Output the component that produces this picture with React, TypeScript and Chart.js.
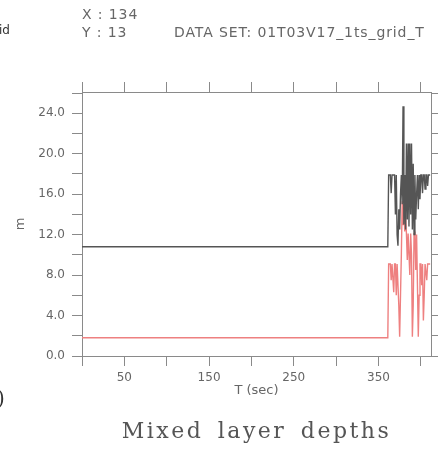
import React, { useEffect, useRef } from "react";
import { Chart, registerables } from "chart.js";

Chart.register(...registerables);

// ---- data ----
const flatTimes = [0, 361];
const blackFlat = 10.8;
const redFlat = 1.8;
const burstStart = 362;
const blackBurst = [
  17.9, 17.9, 17.9, 16.1, 17.9, 17.9, 17.9, 17.9, 14.0, 17.9,
  12.0, 10.9, 14.5, 12.5, 16.0, 17.9, 15.0, 24.7, 13.0, 17.9,
  12.5, 21.0, 13.5, 21.0, 12.8, 21.0, 14.0, 21.0, 12.5, 19.0,
  12.0, 17.9, 13.5, 16.0, 17.9, 14.5, 17.9, 15.5, 17.9, 17.9,
  16.1, 17.9, 17.9, 16.5, 17.9, 17.9, 16.8, 17.9, 17.9, 17.9,
];
const redBurst = [
  9.1, 9.1, 9.1, 7.5, 9.1, 9.1, 6.3, 9.1, 9.1, 6.0,
  9.1, 9.1, 5.0, 1.9, 6.0, 10.0, 15.3, 13.0, 15.0, 12.3,
  14.0, 12.1, 9.5, 12.1, 12.1, 8.0, 12.1, 10.0, 1.9, 5.0,
  12.1, 12.3, 8.5, 12.0, 7.0, 1.9, 6.0, 9.1, 9.1, 7.0,
  9.1, 3.5, 6.0, 9.1, 9.1, 7.5, 9.1, 9.1, 9.1, 9.1,
];
const xMin = 0;
const xMax = 412;
const yMin = 0;
const yMax = 26.1;
const xStep = 50;
const yStep = 2;
const headerX = "X : 134";
const headerY = "Y : 13";
const dataSetLabel = "DATA SET: 01T03V17_1ts_grid_T";
const chartTitle = "Mixed layer depths";
const xTitle = "T (sec)";
const yTitle = "m";

function series(flat: number, burst: number[]) {
  const pts = flatTimes.map((t) => ({ x: t, y: flat }));
  burst.forEach((v, i) => pts.push({ x: burstStart + i, y: v }));
  return pts;
}

const AXIS = "#8a8a8a";
const TEXT = "#666666";

const textPlugin = {
  id: "ferretText",
  afterDraw(chart: any) {
    const ctx = chart.ctx as CanvasRenderingContext2D;
    const area = chart.chartArea;
    ctx.save();
    ctx.fillStyle = TEXT;
    ctx.textBaseline = "middle";
    ctx.textAlign = "left";
    (ctx as any).letterSpacing = "0.9px";
    ctx.font = "14px 'DejaVu Sans'";
    ctx.fillText(headerX, area.left, 15);
    ctx.fillText(headerY, area.left, 33);
    ctx.fillText(dataSetLabel, 174, 33);
    (ctx as any).letterSpacing = "0px";
    ctx.font = "12px 'DejaVu Sans'";
    ctx.fillStyle = "#333";
    ctx.fillText("id", -1, 31);
    // title
    (ctx as any).letterSpacing = "2.5px";
    (ctx as any).wordSpacing = "5px";
    ctx.font = "22px 'DejaVu Serif'";
    ctx.fillStyle = "#555";
    ctx.textAlign = "center";
    ctx.fillText(chartTitle, (area.left + area.right) / 2, 432);
    (ctx as any).letterSpacing = "0px";
    (ctx as any).wordSpacing = "0px";
    ctx.textAlign = "left";
    ctx.font = "20px 'DejaVu Serif'";
    ctx.fillStyle = "#333";
    ctx.fillText(")", -3, 400);
    ctx.restore();
  },
};

export default function App() {
  const ref = useRef<HTMLCanvasElement | null>(null);
  useEffect(() => {
    if (!ref.current) return;
    const gridCommon = {
      drawOnChartArea: false,
      drawTicks: true,
      tickLength: 10,
      color: AXIS,
      lineWidth: 1,
    };
    const chart = new Chart(ref.current, {
      type: "line",
      data: {
        datasets: [
          {
            data: series(blackFlat, blackBurst),
            borderColor: "#555555",
            borderWidth: 1.4,
            pointRadius: 0,
            tension: 0,
            xAxisID: "x",
            yAxisID: "y",
          },
          {
            data: series(redFlat, redBurst),
            borderColor: "#ee8080",
            borderWidth: 1.4,
            pointRadius: 0,
            tension: 0,
            xAxisID: "x",
            yAxisID: "y",
          },
        ],
      },
      options: {
        animation: false,
        responsive: false,
        devicePixelRatio: 1,
        layout: { padding: 0 },
        plugins: {
          legend: { display: false },
          tooltip: { enabled: false },
          title: { display: false },
        },
        scales: {
          x: {
            type: "linear",
            position: "bottom",
            min: xMin,
            max: xMax,
            grid: gridCommon,
            border: { display: true, color: AXIS, width: 1 },
            ticks: {
              stepSize: xStep,
              autoSkip: false,
              maxRotation: 0,
              includeBounds: false,
              color: TEXT,
              padding: 5,
              font: { family: "'DejaVu Sans'", size: 12 },
              callback: (v: any) => ((v / xStep) % 2 === 1 ? String(v) : ""),
            },
            title: {
              display: true,
              text: xTitle,
              color: TEXT,
              font: { family: "'DejaVu Sans'", size: 13 },
              padding: { top: 0, bottom: 58.5 },
            },
            afterFit: (s: any) => {
              s.height = 101;
            },
          },
          x2: {
            type: "linear",
            position: "top",
            min: xMin,
            max: xMax,
            grid: gridCommon,
            border: { display: true, color: AXIS, width: 1 },
            ticks: { stepSize: xStep, autoSkip: false, includeBounds: false, display: false },
            afterFit: (s: any) => {
              s.height = 92;
            },
          },
          y: {
            type: "linear",
            position: "left",
            min: yMin,
            max: yMax,
            grid: gridCommon,
            border: { display: true, color: AXIS, width: 1 },
            ticks: {
              stepSize: yStep,
              autoSkip: false,
              includeBounds: false,
              color: TEXT,
              padding: 7,
              font: { family: "'DejaVu Sans'", size: 12 },
              callback: (v: any) => (v % 4 === 0 ? Number(v).toFixed(1) : ""),
            },
            title: {
              display: true,
              text: yTitle,
              color: TEXT,
              font: { family: "'DejaVu Sans'", size: 13 },
              padding: { top: 13, bottom: 0 },
            },
            afterFit: (s: any) => {
              s.width = 82;
            },
          },
          y2: {
            type: "linear",
            position: "right",
            min: yMin,
            max: yMax,
            grid: { ...gridCommon, tickLength: 7 },
            border: { display: true, color: AXIS, width: 1 },
            ticks: { stepSize: yStep, autoSkip: false, includeBounds: false, display: false },
            afterFit: (s: any) => {
              s.width = 8;
            },
          },
        },
      } as any,
      plugins: [textPlugin],
    });
    return () => chart.destroy();
  }, []);
  return (
    <div style={{ position: "fixed", left: 0, top: 0, width: 439, height: 457, background: "#fff" }}>
      <canvas ref={ref} width={439} height={457} style={{ width: 439, height: 457, display: "block" }} />
    </div>
  );
}
